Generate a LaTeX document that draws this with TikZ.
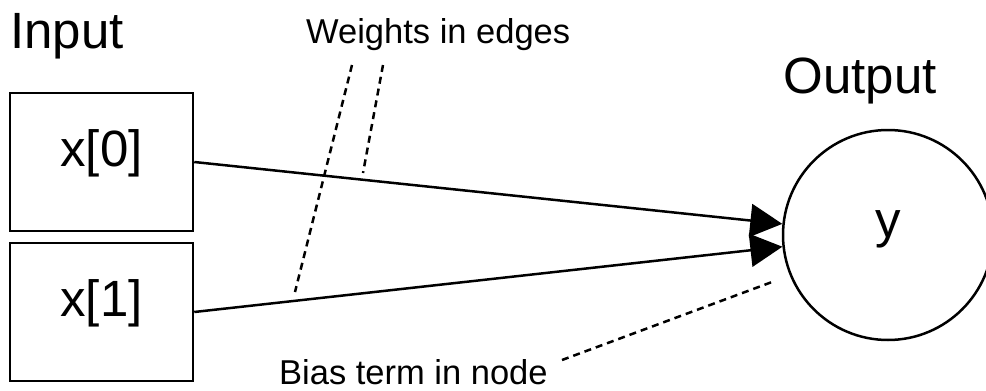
\documentclass[tikz,border=0pt]{standalone}
\usepackage{fontspec}
\setmainfont{Liberation Sans}
\usetikzlibrary{arrows.meta}

\tikzset{
  inputbox/.style={draw, line width=2.5pt, minimum width=183pt, minimum height=138pt,
    inner sep=0pt, text height=30pt, text depth=22pt, font=\fontsize{51}{60}\selectfont},
  outputnode/.style={draw, circle, line width=2.5pt, minimum size=210pt,
    inner sep=0pt, text height=24pt, text depth=20pt, font=\fontsize{51}{60}\selectfont},
  title/.style={anchor=base west, inner sep=0pt, font=\fontsize{51}{60}\selectfont},
  note/.style={anchor=base west, inner sep=0pt, font=\fontsize{34.5}{40}\selectfont},
  edge/.style={line width=2.5pt, -{Triangle[length=32pt,width=33pt]}},
  pointer/.style={line width=2.5pt, dash pattern=on 7pt off 5pt},
}

\begin{document}
\begin{tikzpicture}[x=1pt, y=-1pt]
  \useasboundingbox (0,0) rectangle (986,391);
  % Define nodes
  \node[title] (input) at (10,48) {Input};
  \node[title] (output) at (783.5,93) {Output};
  \node[inputbox] (x0) at (101.5,162) {x[0]};
  \node[inputbox] (x1) at (101.5,312) {x[1]};
  \node[outputnode] (y) at (888,235) {y};
  \node[note] (weights) at (306,43) {Weights in edges};
  \node[note] (bias) at (279,384) {Bias term in node};

  % Pointer ends
  \coordinate (wa) at (352,65);
  \coordinate (wa end) at (295,292);
  \coordinate (wb) at (383,65);
  \coordinate (wb end) at (363,173);
  \coordinate (ba) at (562,360);
  \coordinate (ba end) at (772,282);

  % Draw diagram
  \draw[edge] (x0.east) -- (y);
  \draw[edge] (x1.east) -- (y);

  % Annotations
  \draw[pointer] (wa) -- (wa end);
  \draw[pointer] (wb) -- (wb end);
  \draw[pointer] (ba) -- (ba end);
\end{tikzpicture}
\end{document}
